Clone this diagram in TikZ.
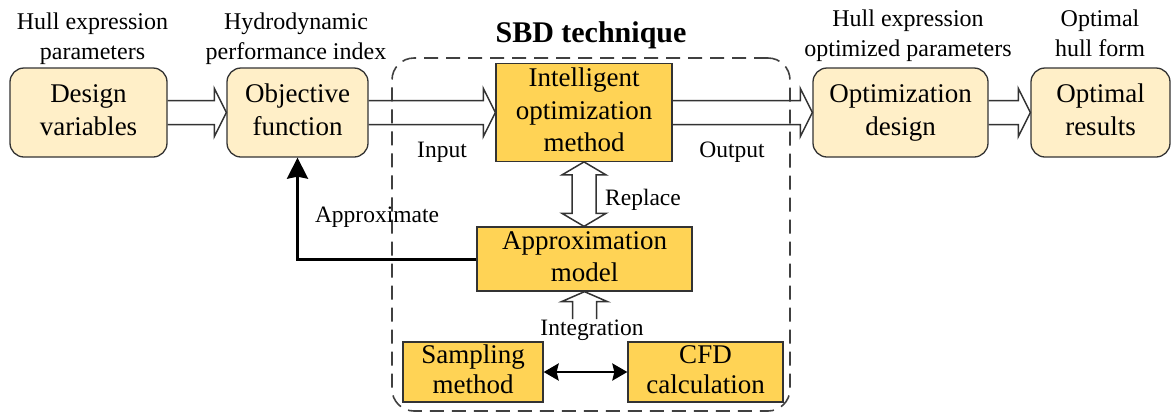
\documentclass[tikz,border=0pt]{standalone}
\usepackage{fontspec}
\setmainfont{Liberation Serif}
\usetikzlibrary{calc,arrows.meta}
\definecolor{cream}{HTML}{FFEFC8}
\definecolor{gold}{HTML}{FFD355}
\definecolor{edge}{HTML}{333333}
\definecolor{dashc}{HTML}{404040}
\newcommand\hollowH[2]{\draw[hol] ($(#1.east)+(0,-12)$) -- ($(#2.west)+(-12,-12)$) -- ($(#2.west)+(-12,-24)$) -- (#2.west) -- ($(#2.west)+(-12,24)$) -- ($(#2.west)+(-12,12)$) -- ($(#1.east)+(0,12)$);}
\begin{document}
\begin{tikzpicture}[x=1pt,y=-1pt,
  rbox/.style={draw=edge,line width=1.3pt,fill=cream,rounded corners=14pt,inner sep=0pt,align=center,font=\fontsize{27}{33}\selectfont},
  gbox/.style={draw=edge,line width=1.3pt,fill=gold,inner sep=0pt,align=center},
  lbl/.style={inner sep=0pt,align=center,font=\fontsize{24}{30}\selectfont},
  sub/.style={inner sep=0pt,font=\fontsize{23.5}{28}\selectfont,anchor=base},
  hol/.style={draw=edge,line width=1.5pt,line join=miter},
  sbdframe/.style={draw=dashc,line width=1.6pt,dash pattern=on 14pt off 8pt,rounded corners=22pt,inner sep=0pt}]
\useasboundingbox (0,0) rectangle (1172,416);

% SBD frame
\node[sbdframe,minimum width=398pt,minimum height=353pt] (sbd) at (591,234.5) {};
\node[anchor=base,inner sep=0pt,font=\bfseries\fontsize{30}{36}\selectfont] (sbdt) at (591,42) {SBD technique};

% main boxes
\node[rbox,minimum width=157pt,minimum height=89pt] (dv) at (88.5,112.5) {Design\strut\\variables\strut};
\node[rbox,minimum width=141pt,minimum height=89pt] (of) at (297.5,112.5) {Objective\strut\\function\strut};
\node[gbox,minimum width=176pt,minimum height=95pt,font=\fontsize{27}{32.5}\selectfont] (iom) at (584,112.5) {Intelligent\strut\\optimization\strut\\method\strut};
\node[rbox,minimum width=175pt,minimum height=89pt] (od) at (900.5,112.5) {Optimization\strut\\design\strut};
\node[rbox,minimum width=139pt,minimum height=89pt] (orr) at (1100.5,112.5) {Optimal\strut\\results\strut};
\node[gbox,minimum width=215pt,minimum height=58pt,font=\fontsize{27}{32}\selectfont] (am) at (584.5,259) {Approximation\strut\\model\strut};
\node[gbox,minimum width=140pt,minimum height=58pt,font=\fontsize{27}{30}\selectfont] (sm) at (473,372) {Sampling\strut\\method\strut};
\node[gbox,minimum width=155pt,minimum height=58pt,font=\fontsize{27}{30}\selectfont] (cfd) at (705.5,372) {CFD\strut\\calculation\strut};

% top labels
\node[lbl] (l1) at (92.5,38) {Hull expression\strut\\parameters\strut};
\node[lbl] (l2) at (296,38) {Hydrodynamic\strut\\performance index\strut};
\node[lbl] (l3) at (908,35) {Hull expression\strut\\optimized parameters\strut};
\node[lbl] (l4) at (1100,35) {Optimal\strut\\hull form\strut};

% small labels
\node[sub] (inp) at (442,157) {Input};
\node[sub] (outp) at (732,157) {Output};
\node[sub] (repl) at (643,205) {Replace};
\node[sub] (appr) at (377,222) {Approximate};
\node[sub] (intg) at (592,335) {Integration};

% hollow horizontal arrows
\hollowH{dv}{of}
\hollowH{of}{iom}
\hollowH{iom}{od}
\hollowH{od}{orr}

% replace double hollow arrow
\coordinate (rb) at (iom.south |- am.north);
\draw[hol] (iom.south) -- ($(iom.south)+(-22,13)$) -- ($(iom.south)+(-12,13)$) -- ($(rb)+(-12,-13)$) -- ($(rb)+(-22,-13)$) -- (rb) -- ($(rb)+(22,-13)$) -- ($(rb)+(12,-13)$) -- ($(iom.south)+(12,13)$) -- ($(iom.south)+(22,13)$) -- cycle;

% integration hollow arrow
\coordinate (ib) at (am.south |- intg.north);
\draw[hol] ($(ib)+(-12,0)$) -- ($(am.south)+(-12,10)$) -- ($(am.south)+(-23,10)$) -- (am.south) -- ($(am.south)+(23,10)$) -- ($(am.south)+(12,10)$) -- ($(ib)+(12,0)$);

% approximate feedback
\draw[line width=3pt,-{Stealth[length=21pt,width=21pt,inset=2pt]}] (am.west) -| (of.south);

% sampling <-> CFD
\draw[line width=2.6pt,{Stealth[length=15pt,width=17pt,inset=2pt]}-{Stealth[length=15pt,width=17pt,inset=2pt]}] (sm.east) -- (cfd.west);
\end{tikzpicture}
\end{document}
